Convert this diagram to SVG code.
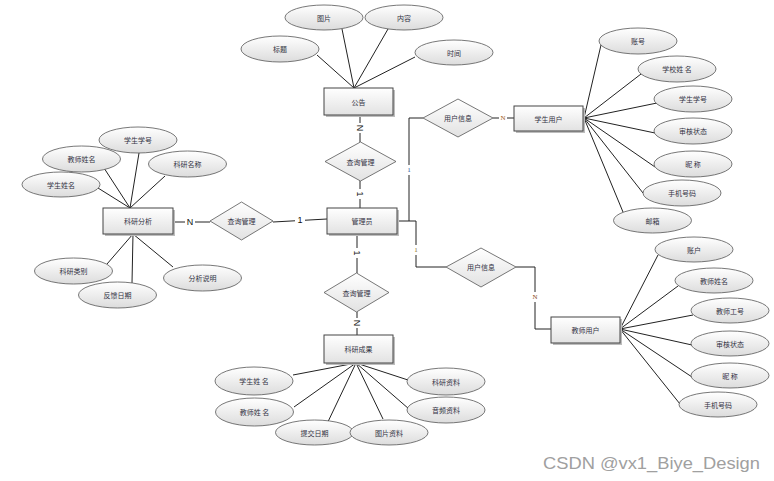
<svg xmlns="http://www.w3.org/2000/svg" width="774" height="481" viewBox="0 0 774 481">
<defs>
<linearGradient id="ge" x1="0" y1="0" x2="0" y2="1"><stop offset="0" stop-color="#ffffff"/><stop offset="1" stop-color="#dcdcdc"/></linearGradient>
<linearGradient id="gr" x1="0" y1="0" x2="0" y2="1"><stop offset="0" stop-color="#ffffff"/><stop offset="1" stop-color="#e2e2e2"/></linearGradient>
<style>
.e{fill:url(#ge);stroke:#555;stroke-width:0.8}
.r{fill:url(#gr);stroke:#444;stroke-width:1}
.sh{fill:#bdbdbd}
.d{fill:url(#gr);stroke:#555;stroke-width:0.8}
.t{font-family:"Noto Sans CJK SC","Liberation Sans",sans-serif;font-size:7px;fill:#334;text-anchor:middle;dominant-baseline:central}
.c line,.c polyline{stroke:#222;stroke-width:1;fill:none}
.l{font-family:"Liberation Sans",sans-serif;font-size:9px;fill:#111;text-anchor:middle;dominant-baseline:central}
.ls{font-family:"Liberation Serif",serif;font-size:7px;text-anchor:middle;dominant-baseline:central}
</style>
</defs>
<rect width="774" height="481" fill="#fff"/>
<g class="c" id="connectors">
<line x1="354" y1="88" x2="317" y2="55"/>
<line x1="354" y1="88" x2="342" y2="29"/>
<line x1="354" y1="88" x2="388" y2="29"/>
<line x1="354" y1="88" x2="415" y2="57"/>
<line x1="360" y1="115" x2="360" y2="142"/>
<line x1="360" y1="181" x2="360" y2="208"/>
<line x1="327" y1="219" x2="273" y2="222"/>
<line x1="210" y1="222" x2="173" y2="222"/>
<line x1="130" y1="208" x2="139" y2="153"/>
<line x1="130" y1="208" x2="104" y2="168"/>
<line x1="130" y1="208" x2="165" y2="176"/>
<line x1="130" y1="208" x2="98" y2="188"/>
<line x1="133" y1="234" x2="107" y2="264"/>
<line x1="133" y1="234" x2="132" y2="283"/>
<line x1="133" y1="234" x2="173" y2="267"/>
<line x1="357" y1="234" x2="357" y2="273"/>
<line x1="357" y1="312" x2="357" y2="335"/>
<line x1="356" y1="363" x2="293" y2="375"/>
<line x1="356" y1="363" x2="294" y2="407"/>
<line x1="356" y1="363" x2="325" y2="428"/>
<line x1="356" y1="363" x2="383" y2="419"/>
<line x1="356" y1="363" x2="408" y2="380"/>
<line x1="356" y1="363" x2="409" y2="409"/>
<polyline points="397,221 409,221 409,118 423,118"/>
<polyline points="409,221 416,221 416,267 446,267"/>
<line x1="493" y1="118" x2="514" y2="118"/>
<polyline points="516,267 535,267 535,329 551,329"/>
<line x1="584" y1="118" x2="601" y2="45"/>
<line x1="584" y1="118" x2="641" y2="74"/>
<line x1="584" y1="118" x2="657" y2="103"/>
<line x1="584" y1="118" x2="655" y2="133"/>
<line x1="584" y1="118" x2="655" y2="167"/>
<line x1="584" y1="118" x2="643" y2="193"/>
<line x1="584" y1="118" x2="623" y2="212"/>
<line x1="620" y1="329" x2="658" y2="255"/>
<line x1="620" y1="329" x2="678" y2="286"/>
<line x1="620" y1="329" x2="693" y2="315"/>
<line x1="620" y1="329" x2="692" y2="345"/>
<line x1="620" y1="329" x2="692" y2="377"/>
<line x1="620" y1="329" x2="680" y2="404"/>
</g>
<g id="labels">
<rect x="355" y="123" width="10" height="10" fill="#fff"/>
<text class="l" transform="translate(360,128) rotate(90)">N</text>
<rect x="355" y="189" width="10" height="10" fill="#fff"/>
<text class="l" transform="translate(360,194) rotate(90)">1</text>
<rect x="352" y="248" width="10" height="10" fill="#fff"/>
<text class="l" transform="translate(357,253) rotate(90)">1</text>
<rect x="352" y="318" width="10" height="10" fill="#fff"/>
<text class="l" transform="translate(357,323) rotate(90)">N</text>
<rect x="185" y="217" width="10" height="10" fill="#fff"/>
<text class="l" x="190" y="222">N</text>
<rect x="295" y="214" width="10" height="10" fill="#fff"/>
<text class="l" x="300" y="220">1</text>
<rect x="406" y="165" width="6" height="10" fill="#fff"/>
<text class="ls" x="409" y="170" fill="#2a4f9a">1</text>
<rect x="413" y="245" width="6" height="10" fill="#fff"/>
<text class="ls" x="416" y="250" fill="#8a6a20">1</text>
<rect x="499" y="113" width="8" height="10" fill="#fff"/>
<text class="ls" x="503" y="118" fill="#a05a20">N</text>
<rect x="531" y="292" width="8" height="10" fill="#fff"/>
<text class="ls" x="535" y="297" fill="#8a4a20">N</text>
</g>
<g id="gonggao"><rect class="sh" x="326" y="90" width="69" height="27"/><rect class="r" x="324" y="88" width="69" height="27"/><text class="t" x="358.5" y="101.5">公告</text></g>
<g id="tupian"><ellipse class="e" cx="324" cy="17.5" rx="39" ry="12.5"/><text class="t" x="324" y="17.5">图片</text></g>
<g id="neirong"><ellipse class="e" cx="404" cy="17.5" rx="39" ry="12.5"/><text class="t" x="404" y="17.5">内容</text></g>
<g id="biaoti"><ellipse class="e" cx="280" cy="49" rx="39" ry="13"/><text class="t" x="280" y="49">标题</text></g>
<g id="shijian"><ellipse class="e" cx="454" cy="52.5" rx="39" ry="12.5"/><text class="t" x="454" y="52.5">时间</text></g>
<g id="chaxun1"><polygon class="d" points="360.5,142 396,161.5 360.5,181 325,161.5"/><text class="t" x="360.5" y="161.5">查询管理</text></g>
<g id="guanliyuan"><rect class="sh" x="329" y="210" width="70" height="26"/><rect class="r" x="327" y="208" width="70" height="26"/><text class="t" x="362" y="221">管理员</text></g>
<g id="chaxun2"><polygon class="d" points="241.5,202 273,221 241.5,240 210,221"/><text class="t" x="241.5" y="221">查询管理</text></g>
<g id="kyfx"><rect class="sh" x="105" y="210" width="70" height="26"/><rect class="r" x="103" y="208" width="70" height="26"/><text class="t" x="138" y="221">科研分析</text></g>
<g id="a1"><ellipse class="e" cx="138" cy="140" rx="39" ry="13"/><text class="t" x="138" y="140">学生学号</text></g>
<g id="a2"><ellipse class="e" cx="81.5" cy="159" rx="39" ry="13"/><text class="t" x="81.5" y="159">教师姓名</text></g>
<g id="a3"><ellipse class="e" cx="187.5" cy="164" rx="39" ry="13"/><text class="t" x="187.5" y="164">科研名称</text></g>
<g id="a4"><ellipse class="e" cx="61" cy="184.5" rx="39" ry="12.5"/><text class="t" x="61" y="184.5">学生姓名</text></g>
<g id="a5"><ellipse class="e" cx="73.5" cy="271" rx="39" ry="13"/><text class="t" x="73.5" y="271">科研类别</text></g>
<g id="a6"><ellipse class="e" cx="117.5" cy="295" rx="39" ry="13"/><text class="t" x="117.5" y="295">反馈日期</text></g>
<g id="a7"><ellipse class="e" cx="202.5" cy="278" rx="39" ry="13"/><text class="t" x="202.5" y="278">分析说明</text></g>
<g id="chaxun3"><polygon class="d" points="356.5,273 389,292.5 356.5,312 324,292.5"/><text class="t" x="356.5" y="292.5">查询管理</text></g>
<g id="kycg"><rect class="sh" x="326" y="337" width="69" height="28"/><rect class="r" x="324" y="335" width="69" height="28"/><text class="t" x="358.5" y="349">科研成果</text></g>
<g id="b1"><ellipse class="e" cx="254" cy="381" rx="39" ry="14"/><text class="t" x="254" y="381">学生姓 名</text></g>
<g id="b2"><ellipse class="e" cx="254.5" cy="412" rx="39" ry="14"/><text class="t" x="254.5" y="412">教师姓 名</text></g>
<g id="b3"><ellipse class="e" cx="314.5" cy="432.5" rx="39" ry="12.5"/><text class="t" x="314.5" y="432.5">提交日期</text></g>
<g id="b4"><ellipse class="e" cx="389" cy="432.5" rx="39" ry="12.5"/><text class="t" x="389" y="432.5">图片资料</text></g>
<g id="b5"><ellipse class="e" cx="446" cy="381.5" rx="39" ry="13.5"/><text class="t" x="446" y="381.5">科研资料</text></g>
<g id="b6"><ellipse class="e" cx="446" cy="410" rx="39" ry="13"/><text class="t" x="446" y="410">音频资料</text></g>
<g id="yhxx1"><polygon class="d" points="458,99 493,118 458,137 423,118"/><text class="t" x="458" y="118">用户信息</text></g>
<g id="xsyh"><rect class="sh" x="516" y="108" width="69" height="25"/><rect class="r" x="514" y="106" width="69" height="25"/><text class="t" x="548.5" y="118.5">学生用户</text></g>
<g id="c1"><ellipse class="e" cx="638" cy="41" rx="39" ry="13"/><text class="t" x="638" y="41">账号</text></g>
<g id="c2"><ellipse class="e" cx="677" cy="69" rx="39" ry="13"/><text class="t" x="677" y="69">学校姓 名</text></g>
<g id="c3"><ellipse class="e" cx="693" cy="99" rx="39" ry="13"/><text class="t" x="693" y="99">学生学号</text></g>
<g id="c4"><ellipse class="e" cx="693" cy="131" rx="39" ry="13"/><text class="t" x="693" y="131">审核状态</text></g>
<g id="c5"><ellipse class="e" cx="693" cy="164" rx="39" ry="13"/><text class="t" x="693" y="164">昵 称</text></g>
<g id="c6"><ellipse class="e" cx="682" cy="193" rx="39" ry="13"/><text class="t" x="682" y="193">手机号码</text></g>
<g id="c7"><ellipse class="e" cx="652.5" cy="220.5" rx="39" ry="12.5"/><text class="t" x="652.5" y="220.5">邮箱</text></g>
<g id="yhxx2"><polygon class="d" points="481,248 516,267 481,287 446,267"/><text class="t" x="481" y="267">用户信息</text></g>
<g id="jsyh"><rect class="sh" x="553" y="319" width="69" height="26"/><rect class="r" x="551" y="317" width="69" height="26"/><text class="t" x="585.5" y="330">教师用户</text></g>
<g id="d1"><ellipse class="e" cx="694" cy="249.5" rx="39" ry="12.5"/><text class="t" x="694" y="249.5">账户</text></g>
<g id="d2"><ellipse class="e" cx="714" cy="280.5" rx="39" ry="12.5"/><text class="t" x="714" y="280.5">教师姓名</text></g>
<g id="d3"><ellipse class="e" cx="730" cy="310.5" rx="39" ry="12.5"/><text class="t" x="730" y="310.5">教师工号</text></g>
<g id="d4"><ellipse class="e" cx="730" cy="343.5" rx="39" ry="12.5"/><text class="t" x="730" y="343.5">审核状态</text></g>
<g id="d5"><ellipse class="e" cx="730" cy="375.5" rx="39" ry="12.5"/><text class="t" x="730" y="375.5">昵 称</text></g>
<g id="d6"><ellipse class="e" cx="718" cy="404.5" rx="39" ry="12.5"/><text class="t" x="718" y="404.5">手机号码</text></g>
<text x="543" y="469" font-family="Liberation Sans, sans-serif" font-size="17" fill="#a0a0a0" textLength="217" lengthAdjust="spacingAndGlyphs">CSDN @vx1_Biye_Design</text>
</svg>
